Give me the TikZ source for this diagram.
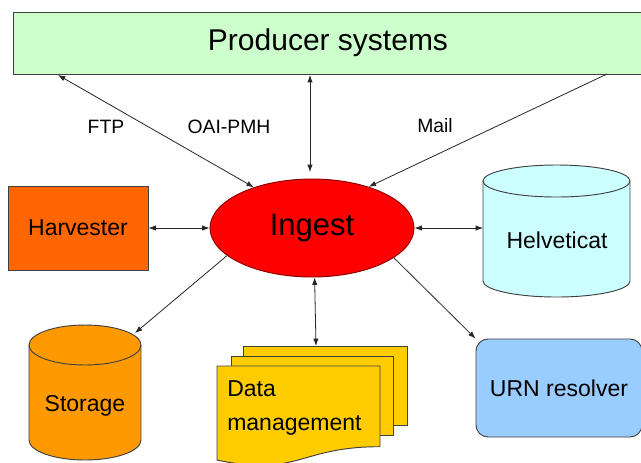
\documentclass[tikz,border=0pt]{standalone}
\usepackage{fontspec}
\setmainfont{Liberation Sans}
\usetikzlibrary{arrows.meta,shapes.geometric}
\definecolor{prodfill}{HTML}{CCFFCC}
\definecolor{harvfill}{HTML}{FF6600}
\definecolor{helvfill}{HTML}{CCFFFF}
\definecolor{storfill}{HTML}{FF9900}
\definecolor{datafill}{HTML}{FFCC00}
\definecolor{urnfill}{HTML}{99CCFF}
\definecolor{edgegray}{HTML}{404040}
\begin{document}
\begin{tikzpicture}[x=0.75pt,y=-0.75pt,
  boxline/.style={draw=edgegray, line width=0.7pt},
  lbl/.style={font=\fontsize{17.25}{20}\selectfont},
  elbl/.style={font=\fontsize{14.5}{17}\selectfont, inner sep=0pt},
  tip/.style={Latex[length=5.5pt,width=4pt]},
  twoway/.style={draw=black!85, line width=0.6pt, {Latex[length=5.5pt,width=4pt]}-{Latex[length=5.5pt,width=4pt]}},
  oneway/.style={draw=black!85, line width=0.6pt, -{Latex[length=5.5pt,width=4pt]}}]
\useasboundingbox (0,0) rectangle (641,462);
\fill[white] (0,0) rectangle (641,462);

% Producer systems
\node (producer) [boxline, fill=prodfill, rectangle, inner sep=0pt,
  minimum width=472.5pt, minimum height=46.5pt,
  font=\fontsize{22.5}{27}\selectfont] at (328,43) {Producer systems};

% Harvester
\node (harvester) [boxline, fill=harvfill, rectangle, inner sep=0pt,
  minimum width=105pt, minimum height=63pt, lbl] at (78,228) {Harvester};

% Ingest
\node (ingest) [draw=red!55!black, line width=0.7pt, fill=red, ellipse, inner sep=0pt,
  minimum width=153pt, minimum height=73.5pt,
  font=\fontsize{23.25}{28}\selectfont] at (312,228) {Ingest};

% Helveticat cylinder
\fill[helvfill] (483,181) rectangle (630,281);
\fill[helvfill] (556.5,281) ellipse [x radius=73.5, y radius=16];
\draw[boxline] (483,181) -- (483,281) arc [start angle=180, end angle=0, x radius=73.5, y radius=16] -- (630,181);
\draw[boxline, fill=helvfill] (556.5,181) ellipse [x radius=73.5, y radius=16];
\node (helveticat) [lbl] at (557,240) {Helveticat};
\coordinate (helvleft) at (483,228);

% URN resolver
\node (urn) [boxline, fill=urnfill, rectangle, rounded corners=9pt, inner sep=0pt,
  minimum width=124.5pt, minimum height=73.5pt, lbl] at (559,388) {URN resolver};

% Storage cylinder
\fill[storfill] (29,345) rectangle (141,440);
\fill[storfill] (85,440) ellipse [x radius=56, y radius=20];
\draw[boxline] (29,345) -- (29,440) arc [start angle=180, end angle=0, x radius=56, y radius=20] -- (141,345);
\draw[boxline, fill=storfill] (85,345) ellipse [x radius=56, y radius=20];
\node (storage) [lbl] at (85,406) {Storage};
\coordinate (stortop) at (135,333);

% Data management (multi-document)
\draw[boxline, fill=datafill] (243,346) rectangle (407,425);
\draw[boxline, fill=datafill] (231,356) rectangle (393,435);
\draw[boxline, fill=datafill] (217,366) -- (380,366) -- (380,446.7)
  .. controls (298.5,446.7) and (298.5,477.4) .. (217,460) -- cycle;
\node (datamgmt) [anchor=north west, align=left, inner sep=0pt,
  font=\fontsize{17.25}{25.5}\selectfont] at (227,380.5) {Data\\management};
\coordinate (datatop) at (316,346);

% connectors
\coordinate (ftpend) at (58,75);
\coordinate (oaitop) at (310,75);
\coordinate (oaibot) at (310,172);
\coordinate (mailend) at (607,74);
\draw[twoway] (ftpend) -- (ingest.145);
\draw[twoway] (oaitop) -- (oaibot);
\draw[oneway] (mailend) -- (ingest.36);
\draw[twoway] (harvester.east) -- (ingest.west);
\draw[twoway] (ingest.east) -- (helvleft);
\draw[oneway] (ingest.198) -- (stortop);
\draw[twoway] (ingest.-87) -- (datatop);
\draw[oneway] (ingest.-20) -- (urn.north west);

% labels
\node (ftp) [elbl] at (106,127) {FTP};
\node (oai) [elbl] at (229,127) {OAI-PMH};
\node (mail) [elbl] at (435,126) {Mail};
\end{tikzpicture}
\end{document}
